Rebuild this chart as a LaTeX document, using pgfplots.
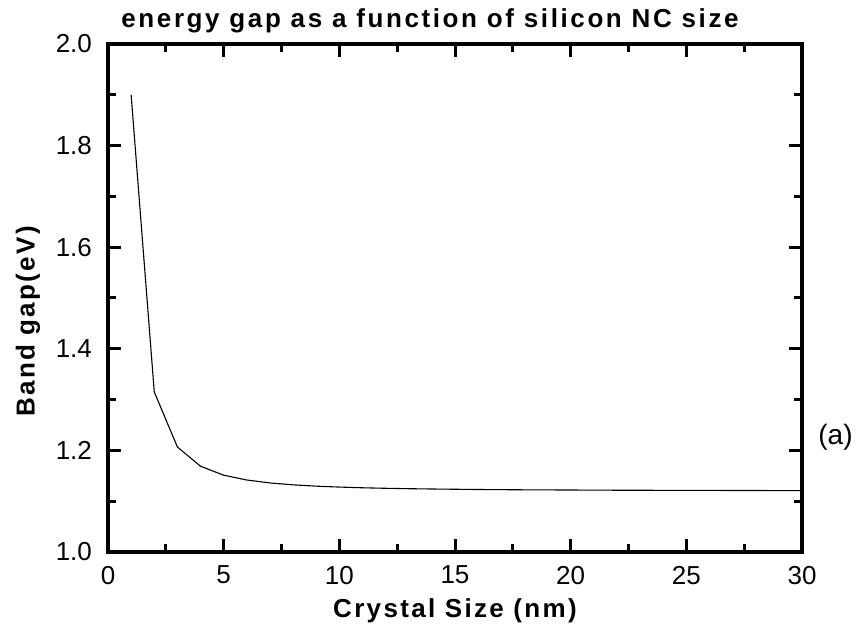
\documentclass[border=0pt]{standalone}
\usepackage{pgfplots}
\pgfplotsset{compat=1.18}
\usepackage{fontspec}
\setmainfont{Liberation Sans}
\begin{document}
\begin{tikzpicture}
\begin{axis}[
  name=ax,
  scale only axis,
  width=347pt, height=254pt,
  xmin=0, xmax=30, ymin=1.0, ymax=2.0,
  xtick={0,5,...,30},
  minor xtick={2.5,7.5,...,27.5},
  ytick={1.0,1.2,...,2.01},
  minor ytick={1.1,1.3,...,1.91},
  tick align=inside,
  tick pos=both,
  axis line style={line width=2pt},
  major tick length=6.5pt,
  minor tick length=4pt,
  every tick/.style={black, line width=1.5pt},
  font=\fontsize{13}{15}\selectfont,
  /pgf/number format/assume math mode=true,
  tick label style={font=\fontsize{13}{15}\selectfont},
  yticklabel style={/pgf/number format/.cd, fixed, fixed zerofill, precision=1, /tikz/.cd, xshift=-4.5pt},
  xticklabel style={yshift=-3.5pt},
  title={\bfseries\addfontfeatures{LetterSpace=10}energy gap as a function of silicon NC size},
  title style={at={(axis description cs:0.464,1)}, anchor=base, yshift=2pt},
  xlabel={\bfseries\addfontfeatures{LetterSpace=9}Crystal Size (nm)},
  ylabel={\bfseries\addfontfeatures{LetterSpace=9}Band gap(eV)},
  xlabel style={at={(axis description cs:0.5,0)}, anchor=base, yshift=-33pt},
  ylabel style={at={(axis description cs:-0.1153,0.454)}, anchor=center},
  clip=false,
]
\addplot[black, line width=0.55pt] coordinates {
(1,1.9000) (2,1.3150) (3,1.2067) (4,1.1688) (5,1.1512) (6,1.1417)
(7,1.1359) (8,1.1322) (9,1.1296) (10,1.1278) (11,1.1264) (12,1.1254)
(13,1.1246) (14,1.1240) (15,1.1235) (16,1.1230) (17,1.1227) (18,1.1224)
(19,1.1222) (20,1.1220) (21,1.1218) (22,1.1216) (23,1.1215) (24,1.1214)
(25,1.1212) (26,1.1212) (27,1.1211) (28,1.1210) (29,1.1209) (30,1.1209)
};
\node[anchor=west, inner sep=0pt, font=\fontsize{14}{16}\selectfont] at (axis description cs:1.023,0.226) {(a)};
\end{axis}
\pgfresetboundingbox
\path (ax.south west) ++(-54pt,-44pt) rectangle ([xshift=29pt,yshift=22pt]ax.north east);
\end{tikzpicture}
\end{document}
